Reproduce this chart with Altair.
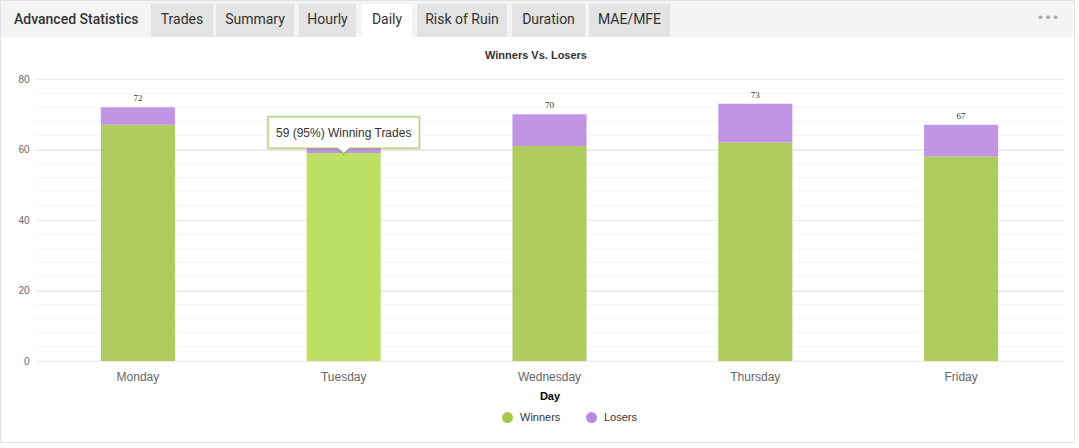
import altair as alt
import pandas as pd

# ---- data ----
days = ["Monday", "Tuesday", "Wednesday", "Thursday", "Friday"]
winners = [67, 59, 61, 62, 58]
losers = [5, 3, 9, 11, 9]
series_names = ["Winners", "Losers"]
tab_labels = ["Trades", "Summary", "Hourly", "Daily", "Risk of Ruin", "Duration", "MAE/MFE"]
y_ticks = [0, 20, 40, 60, 80]
tooltip_day = "Tuesday"
tooltip_text = "59 (95%) Winning Trades"

# ---- layout (pixels, not data) ----
PAD_L, PAD_T = 35, 79
W, H = 1029, 282
tab_x0 = [151, 216, 299, 362, 417, 512, 589]
tab_x1 = [213, 294, 356, 412, 507, 585, 670]

GREEN = "#a5c74e"
GREEN_HL = "#b6dc52"
PURPLE = "#ba8ae1"

rows = []
for d, w, l in zip(days, winners, losers):
    rows.append({"day": d, "series": "Winners", "value": w, "ord": 0})
    rows.append({"day": d, "series": "Losers", "value": l, "ord": 1})
df = pd.DataFrame(rows)
tot = pd.DataFrame({"day": days, "total": [w + l for w, l in zip(winners, losers)]})

xs = alt.X("day:N", sort=days,
           scale=alt.Scale(paddingInner=0.64, paddingOuter=0.32),
           axis=alt.Axis(title="Day", labelAngle=0, tickSize=0, domain=False,
                         labelPadding=10, labelFontSize=12, labelColor="#666666",
                         labelFont="Liberation Sans", titleFont="Liberation Sans",
                         titleFontSize=11, titleFontWeight="bold", titleColor="#000000",
                         titlePadding=8))
yscale = alt.Scale(domain=[0, 80], nice=False)
yaxis = alt.Axis(values=y_ticks, grid=True, gridColor="#e6e6e6", title=None,
                 domain=False, ticks=False, labelPadding=6, labelFontSize=10,
                 labelColor="#666666", labelFont="Liberation Sans")

minor = alt.Chart(pd.DataFrame({"g": list(range(0, 81, 4))})).mark_rule(
    color="#f4f4f4", strokeWidth=1).encode(y=alt.Y("g:Q", scale=yscale, axis=yaxis))

bars = alt.Chart(df).mark_bar(opacity=0.9).encode(
    x=xs,
    y=alt.Y("value:Q", stack="zero", scale=yscale, axis=yaxis),
    color=alt.condition(
        f"datum.day == '{tooltip_day}' && datum.series == 'Winners'",
        alt.value(GREEN_HL),
        alt.Color("series:N", scale=alt.Scale(domain=series_names, range=[GREEN, PURPLE]),
                  legend=alt.Legend(title=None, orient="none", direction="horizontal",
                                    legendX=467, legendY=333, symbolType="circle",
                                    symbolSize=120, symbolOpacity=1, symbolStrokeWidth=0,
                                    labelFontSize=11, labelFont="Liberation Sans",
                                    labelColor="#333333", columnPadding=25, labelOffset=7))),
    order=alt.Order("ord:Q"),
)

# the total label of the hovered day sits under the tooltip in the reference
labels = alt.Chart(tot).transform_filter(
    f"datum.day != '{tooltip_day}'"
).mark_text(dy=-9, fontSize=9, font="Liberation Serif", color="#333333").encode(
    x=alt.X("day:N", sort=days), y=alt.Y("total:Q", scale=yscale, axis=yaxis),
    text="total:Q")

tipdf = pd.DataFrame({"day": [tooltip_day],
                      "value": [winners[days.index(tooltip_day)]],
                      "text": [tooltip_text]})
tip_path = "M-1,-0.477 L1,-0.477 L1,-0.066 L0.08,-0.066 L0,0 L-0.08,-0.066 L-1,-0.066 Z"
tip_shadow = alt.Chart(tipdf).mark_point(shape=tip_path, size=22801, filled=False,
                                         stroke="#000000", strokeOpacity=0.08,
                                         strokeWidth=4, fill="white", fillOpacity=1).encode(
    x=alt.X("day:N", sort=days), y=alt.Y("value:Q", scale=yscale, axis=yaxis))
tip_box = alt.Chart(tipdf).mark_point(shape=tip_path, size=22801, filled=True,
                                      fill="white", fillOpacity=1, opacity=1,
                                      stroke="#a3c456", strokeWidth=1).encode(
    x=alt.X("day:N", sort=days), y=alt.Y("value:Q", scale=yscale, axis=yaxis))
tip_text = alt.Chart(tipdf).mark_text(dy=-20.5, fontSize=12, font="Liberation Sans",
                                      color="#333333").encode(
    x=alt.X("day:N", sort=days), y=alt.Y("value:Q", scale=yscale, axis=yaxis),
    text="text:N")

title = alt.Chart(pd.DataFrame({"t": ["Winners Vs. Losers"]})).mark_text(
    fontSize=11, fontWeight="bold", font="Liberation Sans", color="#333333",
    align="center", baseline="middle").encode(
    x=alt.value(536 - PAD_L), y=alt.value(56 - PAD_T), text="t:N")

# ---- header / tabs ----
header_bg = alt.Chart(pd.DataFrame({"a": [0]})).mark_rect(color="#f4f4f4").encode(
    x=alt.value(-PAD_L + 1), x2=alt.value(1073 - PAD_L),
    y=alt.value(-PAD_T + 1), y2=alt.value(37 - PAD_T))
frame = alt.Chart(pd.DataFrame({"a": [0]})).mark_rect(
    fill=None, stroke="#e2e2e2", strokeWidth=1).encode(
    x=alt.value(-PAD_L + 0.5), x2=alt.value(1074.5 - PAD_L),
    y=alt.value(-PAD_T + 0.5), y2=alt.value(442.5 - PAD_T))
tabdf = pd.DataFrame({"label": tab_labels,
                      "x0": [v - PAD_L for v in tab_x0],
                      "x1": [v - PAD_L for v in tab_x1]})
tabdf["xc"] = (tabdf["x0"] + tabdf["x1"]) / 2
tabdf["active"] = tabdf["label"] == "Daily"
tab_rects = alt.Chart(tabdf).mark_rect().encode(
    x=alt.X("x0:Q", scale=None), x2="x1:Q",
    y=alt.value(4 - PAD_T), y2=alt.value(37 - PAD_T),
    color=alt.condition("datum.active", alt.value("#ffffff"), alt.value("#e3e3e3")))
tab_texts = alt.Chart(tabdf).mark_text(font="Roboto", fontSize=14, color="#333333",
                                       baseline="middle").encode(
    x=alt.X("xc:Q", scale=None), y=alt.value(20 - PAD_T), text="label:N")
adv = alt.Chart(pd.DataFrame({"t": ["Advanced Statistics"]})).mark_text(
    font="Roboto", fontSize=14, fontWeight=500, color="#333333", align="left",
    baseline="middle").encode(x=alt.value(14 - PAD_L), y=alt.value(20 - PAD_T), text="t:N")
dots = alt.Chart(pd.DataFrame({"t": ["•••"]})).mark_text(
    font="DejaVu Sans", fontSize=13, color="#aaaaaa", align="center",
    baseline="middle").encode(x=alt.value(1048 - PAD_L), y=alt.value(18 - PAD_T), text="t:N")

chart = alt.layer(
    header_bg, frame, tab_rects, tab_texts, adv, dots, title,
    minor, bars, labels, tip_shadow, tip_box, tip_text
).resolve_scale(color="independent").properties(
    width=W, height=H,
    autosize=alt.AutoSizeParams(type="none"),
    padding={"left": PAD_L, "top": PAD_T, "right": 1079 - PAD_L - W, "bottom": 448 - PAD_T - H},
    background="white",
).configure_view(stroke=None, clip=False)

chart.save("out.html", embed_options={"renderer": "svg", "actions": False})
